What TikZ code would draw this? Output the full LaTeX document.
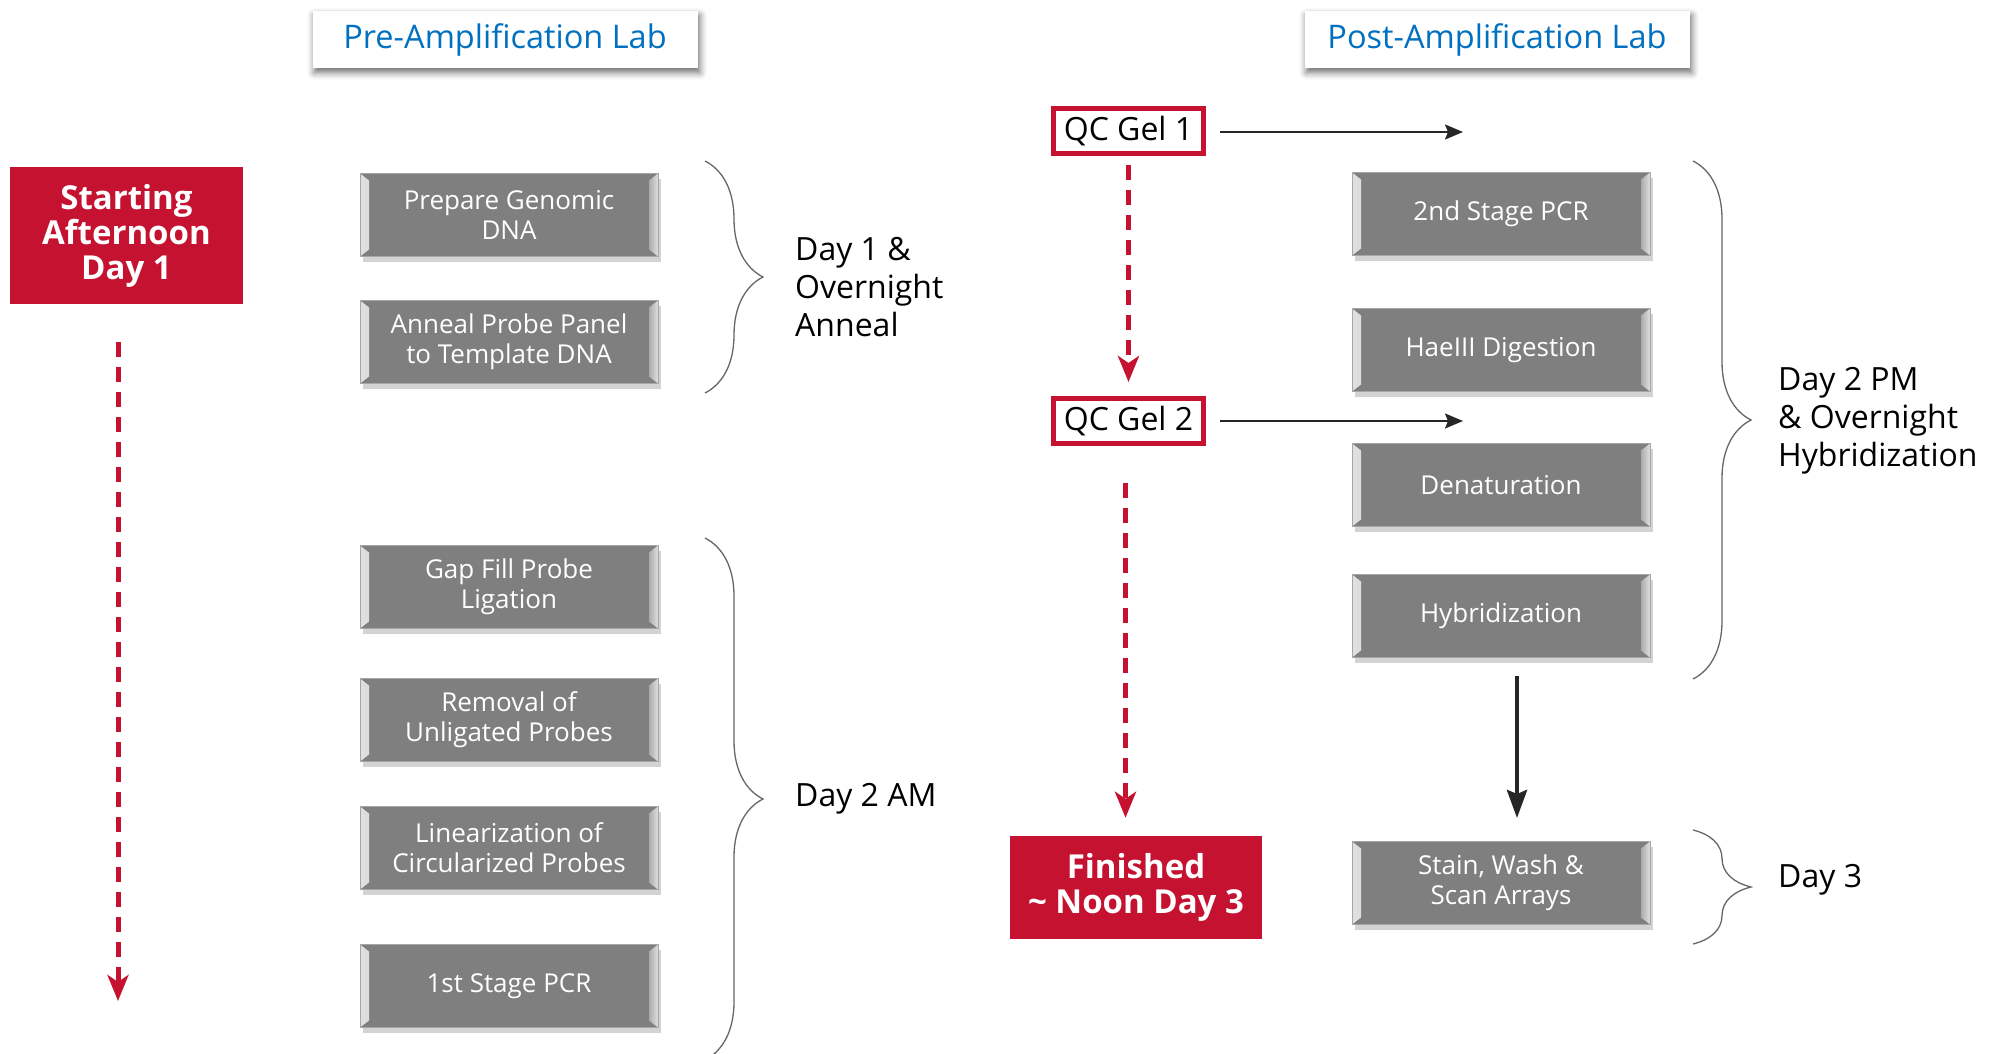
\documentclass[tikz,border=0pt]{standalone}
\usepackage{fontspec}
\setmainfont{Open Sans}
\usetikzlibrary{shadows,shadows.blur,decorations.pathreplacing,arrows.meta}
\definecolor{labred}{HTML}{C41230}
\definecolor{labblue}{HTML}{0070C0}
\definecolor{boxgray}{HTML}{7F7F7F}

\begin{document}
\begin{tikzpicture}[x=1pt, y=-1pt,
  stepbox/.style={fill=boxgray, draw=gray!70, line width=1pt, minimum width=298pt,
    minimum height=83pt, inner sep=0pt, text=white, align=center,
    font=\fontsize{26}{30}\selectfont,
    drop shadow={shadow xshift=3pt, shadow yshift=-5pt, opacity=0.35},
    path picture={
      \fill[left color=gray!25, right color=gray!65]
        (path picture bounding box.north west) -- ++(9pt,-7pt)
        -- ([shift={(9pt,7pt)}]path picture bounding box.south west)
        -- (path picture bounding box.south west) -- cycle;
      \fill[right color=gray!25, left color=gray!65]
        (path picture bounding box.north east) -- ++(-9pt,-7pt)
        -- ([shift={(-9pt,7pt)}]path picture bounding box.south east)
        -- (path picture bounding box.south east) -- cycle;
    }},
  hdrbox/.style={fill=white, minimum width=385pt, minimum height=57pt,
    text=labblue, font=\fontsize{32.5}{36}\selectfont,
    blur shadow={shadow xshift=2pt, shadow yshift=-4pt, shadow blur radius=7pt, shadow opacity=60}},
  redbox/.style={fill=labred, text=white, align=center, inner sep=0pt,
    font=\bfseries\fontsize{33}{35}\selectfont},
  qcbox/.style={draw=labred, line width=5pt, fill=white, minimum width=150pt,
    minimum height=45pt, inner sep=0pt, font=\fontsize{32}{34}\selectfont},
  daylabel/.style={anchor=west, align=left, inner sep=0pt,
    font=\fontsize{32}{38}\selectfont},
  bracket/.style={decorate, decoration={brace, amplitude=58pt}, draw=gray!80!black, line width=1.3pt},
  reddash/.style={draw=labred, line width=5pt, dash pattern=on 15pt off 10pt,
    -{Stealth[length=26pt, width=21pt, inset=7pt]}},
  blackarrow/.style={draw=black!85, line width=2pt, -{Stealth[length=18pt, width=15pt, inset=3pt]}}]

\useasboundingbox (0,0) rectangle (2000,1054);

% lab headers
\node[hdrbox] (prelab) at (505,40) {Pre-Amplification Lab};
\node[hdrbox] (postlab) at (1497,40) {Post-Amplification Lab};

% start and finish
\node[redbox, minimum width=233pt, minimum height=137pt] (start) at (126.5,235.5)
  {Starting\\Afternoon\\Day 1};
\coordinate (timeend) at (118,1001);
\draw[reddash, shorten <=38pt] (start.south -| timeend) -- (timeend);

\node[redbox, minimum width=252pt, minimum height=103pt] (finish) at (1136,887.5)
  {Finished\\\textasciitilde{} Noon Day 3};

% pre-amplification steps
\node[stepbox] (genomic) at (509,215) {Prepare Genomic\\DNA};
\node[stepbox] (anneal) at (509,342) {Anneal Probe Panel\\to Template DNA};
\node[stepbox] (gapfill) at (509,587) {Gap Fill Probe\\Ligation};
\node[stepbox] (removal) at (509,720) {Removal of\\Unligated Probes};
\node[stepbox] (linear) at (509,848) {Linearization of\\Circularized Probes};
\node[stepbox] (pcra) at (509,986) {1st Stage PCR};

% post-amplification steps
\node[stepbox] (pcrb) at (1501,214) {2nd Stage PCR};
\node[stepbox] (digest) at (1501,350) {HaeIII Digestion};
\node[stepbox] (denat) at (1501,485) {Denaturation};
\node[stepbox] (hybrid) at (1501,616) {Hybridization};
\node[stepbox] (stain) at (1501,883) {Stain, Wash \&\\Scan Arrays};

% QC gels
\node[qcbox] (qcone) at (1128.5,131) {QC Gel 1};
\node[qcbox] (qctwo) at (1128.5,421) {QC Gel 2};
\coordinate (qconeend) at (1463,132);
\coordinate (qctwoend) at (1463,421);
\draw[blackarrow, shorten <=14pt] (qcone.east |- qconeend) -- (qconeend);
\draw[blackarrow, shorten <=14pt] (qctwo.east |- qctwoend) -- (qctwoend);
\draw[reddash, shorten <=9pt, shorten >=14pt] (qcone) -- (qctwo);
\draw[reddash, shorten <=37pt, shorten >=18pt] ([xshift=-3pt]qctwo.south) -- ([xshift=-3pt]qctwo.south |- finish.north);

\draw[blackarrow, line width=4.5pt, -{Stealth[length=28pt, width=20pt, inset=4pt]}, shorten <=18pt, shorten >=23pt]
  ([xshift=16pt]hybrid.south) -- ([xshift=16pt]stain.north);

% braces and days
\draw[bracket] (705,161) -- (705,393);
\node[daylabel] (dayone) at (795,287) {Day 1 \&\\Overnight\\Anneal};
\draw[bracket] (705,538) -- (705,1060);
\node[daylabel] (daytwoam) at (795,799) {Day 2 AM};
\draw[bracket] (1693,161) -- (1693,679);
\node[daylabel] (daytwopm) at (1778,421) {Day 2 PM\\\& Overnight\\Hybridization};
\draw[bracket] (1693,830) -- (1693,944);
\node[daylabel] (daythree) at (1778,880) {Day 3};

\end{tikzpicture}
\end{document}
